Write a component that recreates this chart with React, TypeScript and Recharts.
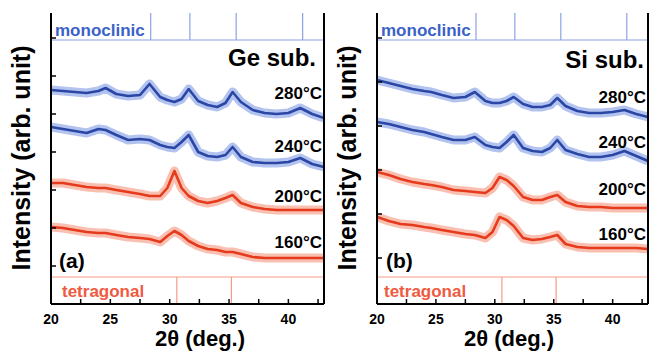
import { LineChart, Line, XAxis, YAxis, ReferenceLine } from 'recharts';

// 2-theta sample points (deg.)
const THETA = [20, 21, 22, 23, 24, 24.6, 25.5, 26.5, 27.5, 28.3, 29.2, 29.8, 30.4, 31, 31.6, 32.4, 33.2, 34, 34.7, 35.3, 36, 37, 38, 39, 40, 41, 42, 43];

// intensities (arb. unit, offset stacked)
const GE_280 = [214, 213, 212, 211, 213, 216, 210, 208, 209, 220, 207, 204, 202, 205, 215, 203, 199, 197, 201, 212, 202, 194, 191, 190, 191, 196, 190, 186];
const GE_240 = [177, 175, 173, 171, 175, 174, 169, 164, 165, 164, 159, 157, 156, 162, 169, 152, 148, 147, 149, 157, 147, 142, 141, 141, 142, 146, 140, 137];
const GE_200 = [121, 121, 119, 117, 116, 116, 114, 112, 110, 108, 108, 116, 133, 116, 108, 103, 101, 103, 106, 109, 101, 97, 95, 94, 94, 94, 94, 94];
const GE_160 = [77, 76, 74, 72, 71, 71, 69, 67, 66, 65, 62, 68, 73, 69, 63, 58, 55, 54, 52, 52, 50, 47, 46, 46, 46, 46, 46, 46];

const SI_280 = [224, 221, 218, 215, 213, 212, 209, 206, 207, 212, 203, 201, 201, 203, 207, 200, 197, 197, 199, 206, 198, 193, 191, 191, 192, 194, 190, 187];
const SI_240 = [182, 180, 177, 174, 172, 170, 167, 164, 164, 167, 159, 157, 156, 162, 169, 156, 153, 152, 156, 164, 154, 150, 147, 147, 149, 153, 148, 143];
const SI_200 = [132, 129, 125, 122, 120, 119, 117, 114, 113, 112, 111, 116, 127, 124, 118, 107, 104, 104, 107, 109, 102, 98, 97, 97, 96, 96, 96, 96];
const SI_160 = [87, 83, 80, 79, 77, 76, 74, 72, 70, 69, 66, 72, 87, 84, 78, 66, 64, 65, 67, 69, 60, 57, 56, 56, 56, 56, 56, 55];

const SERIES_KEYS = ['s280', 's240', 's200', 's160'];
const TEMPS = ['280°C', '240°C', '200°C', '160°C'];

const X_TICKS = [20, 22.5, 25, 27.5, 30, 32.5, 35, 37.5, 40, 42.5];
const X_LABELS = [20, 25, 30, 35, 40];
const GE_Y_TICKS = [38, 76, 114, 152, 190, 228, 266];
const SI_Y_TICKS = [46, 90, 134, 178, 222, 266];

// reference pattern positions
const MONO_PEAKS = [28.4, 31.7, 35.6, 41.2];
const TETRA_PEAKS = [30.6, 35.2];
const MONO_LEVEL = 264;
const TETRA_LEVEL = 27;
const Y_MAX = 291;

const BLUE = '#2a47a6';
const BLUE_LIGHT = '#8aa3e6';
const RED = '#e63a1c';
const RED_LIGHT = '#f69c86';
const FONT = '"Liberation Sans", Arial, sans-serif';

const makeRows = (s280: number[], s240: number[], s200: number[], s160: number[]) =>
  THETA.map((t, i) => ({ t, s280: s280[i], s240: s240[i], s200: s200[i], s160: s160[i] }));

const GE_ROWS = makeRows(GE_280, GE_240, GE_200, GE_160);
const SI_ROWS = makeRows(SI_280, SI_240, SI_200, SI_160);

const BottomTick = (props: any) => {
  const { x, y, payload } = props;
  const v = payload.value;
  return (
    <g>
      <line x1={x} x2={x} y1={y} y2={y - 5} stroke="#000" strokeWidth={1.5} />
      {X_LABELS.includes(v) && (
        <text x={x} y={y + 20} textAnchor="middle" fontSize={14} fontWeight="bold" fontFamily={FONT} fill="#000">
          {v}
        </text>
      )}
    </g>
  );
};

const TopTick = (props: any) => {
  const { x, y } = props;
  return <line x1={x} x2={x} y1={y} y2={y + 5} stroke="#000" strokeWidth={1.5} />;
};

const LeftTick = (props: any) => {
  const { x, y } = props;
  return <line x1={x} x2={x + 5} y1={y} y2={y} stroke="#000" strokeWidth={1.5} />;
};

const RightTick = (props: any) => {
  const { x, y } = props;
  return <line x1={x} x2={x - 5} y1={y} y2={y} stroke="#000" strokeWidth={1.5} />;
};

interface PanelProps {
  rows: any[];
  yTicks: number[];
  width: number;
  rightGap: number;
}

const Panel = ({ rows, yTicks, width, rightGap }: PanelProps) => (
  <LineChart width={width} height={354} data={rows} margin={{ top: 13, right: 0, bottom: 0, left: 0 }}>
    <XAxis xAxisId="b" dataKey="t" type="number" domain={[20, 43]} ticks={X_TICKS} interval={0}
      allowDataOverflow height={50} tickSize={0} tickMargin={0} tick={<BottomTick />}
      axisLine={{ stroke: '#000', strokeWidth: 2 }} />
    <XAxis xAxisId="t" orientation="top" dataKey="t" type="number" domain={[20, 43]} ticks={X_TICKS} interval={0}
      allowDataOverflow height={0} tickSize={0} tickMargin={0} tick={<TopTick />}
      axisLine={{ stroke: '#000', strokeWidth: 2 }} />
    <YAxis yAxisId="l" type="number" domain={[0, Y_MAX]} ticks={yTicks} interval={0} width={51}
      tickSize={0} tickMargin={0} tick={<LeftTick />} axisLine={{ stroke: '#000', strokeWidth: 2 }} />
    <YAxis yAxisId="r" orientation="right" type="number" domain={[0, Y_MAX]} ticks={yTicks} interval={0}
      width={rightGap} tickSize={0} tickMargin={0} tick={<RightTick />} axisLine={{ stroke: '#000', strokeWidth: 2 }} />

    <ReferenceLine xAxisId="b" yAxisId="l" y={MONO_LEVEL} stroke={BLUE_LIGHT} strokeWidth={1.2} />
    {MONO_PEAKS.map((p) => (
      <ReferenceLine key={`m${p}`} xAxisId="b" yAxisId="l" stroke={BLUE_LIGHT} strokeWidth={1.2}
        segment={[{ x: p, y: MONO_LEVEL }, { x: p, y: Y_MAX }]} />
    ))}
    <ReferenceLine xAxisId="b" yAxisId="l" y={TETRA_LEVEL} stroke={RED_LIGHT} strokeWidth={1.2} />
    {TETRA_PEAKS.map((p) => (
      <ReferenceLine key={`t${p}`} xAxisId="b" yAxisId="l" stroke={RED_LIGHT} strokeWidth={1.2}
        segment={[{ x: p, y: 0 }, { x: p, y: TETRA_LEVEL }]} />
    ))}

    {/* wide pale band stands in for the noise envelope of the scans */}
    {SERIES_KEYS.map((k, i) => (
      <Line key={`${k}-band`} xAxisId="b" yAxisId="l" dataKey={k} type="linear" dot={false} activeDot={false}
        stroke={i < 2 ? BLUE_LIGHT : RED_LIGHT} strokeWidth={9} strokeOpacity={0.65} strokeLinejoin="round"
        isAnimationActive={false} />
    ))}
    {SERIES_KEYS.map((k, i) => (
      <Line key={k} xAxisId="b" yAxisId="l" dataKey={k} type="linear" dot={false} activeDot={false}
        stroke={i < 2 ? BLUE : RED} strokeWidth={2.6} strokeLinejoin="round" isAnimationActive={false} />
    ))}
  </LineChart>
);

const bold = { fontFamily: FONT, fontWeight: 'bold' as const, fill: '#000' };

const App = () => (
  <div style={{ position: 'fixed', left: 0, top: 0, width: 650, height: 354, background: '#fff', overflow: 'hidden' }}>
    <div style={{ position: 'absolute', left: 0, top: 0 }}>
      <Panel rows={GE_ROWS} yTicks={GE_Y_TICKS} width={326} rightGap={2} />
    </div>
    <div style={{ position: 'absolute', left: 326, top: 0 }}>
      <Panel rows={SI_ROWS} yTicks={SI_Y_TICKS} width={324} rightGap={2} />
    </div>
    <svg width={650} height={354} style={{ position: 'absolute', left: 0, top: 0, pointerEvents: 'none' }}>
      {/* panel (a) */}
      <text x={30} y={158} transform="rotate(-90 30 158)" textAnchor="middle" fontSize={25} {...bold}>Intensity (arb. unit)</text>
      <text x={200} y={346} textAnchor="middle" fontSize={22} {...bold}>2θ (deg.)</text>
      <text x={55} y={36} fontSize={17} {...bold} fill="#3a62c8">monoclinic</text>
      <text x={62} y={297} fontSize={17} {...bold} fill="#f05a40">tetragonal</text>
      <text x={316} y={66} textAnchor="end" fontSize={24} {...bold}>Ge sub.</text>
      <text x={59} y={268} fontSize={21} {...bold}>(a)</text>
      {TEMPS.map((t, i) => (
        <text key={`ga${t}`} x={322} y={[99, 152, 202, 248][i]} textAnchor="end" fontSize={17} {...bold}>{t}</text>
      ))}
      {/* panel (b) */}
      <text x={356} y={158} transform="rotate(-90 356 158)" textAnchor="middle" fontSize={25} {...bold}>Intensity (arb. unit)</text>
      <text x={509} y={346} textAnchor="middle" fontSize={22} {...bold}>2θ (deg.)</text>
      <text x={381} y={36} fontSize={17} {...bold} fill="#3a62c8">monoclinic</text>
      <text x={384} y={297} fontSize={17} {...bold} fill="#f05a40">tetragonal</text>
      <text x={644} y={68} textAnchor="end" fontSize={24} {...bold}>Si sub.</text>
      <text x={386} y={268} fontSize={21} {...bold}>(b)</text>
      {TEMPS.map((t, i) => (
        <text key={`gb${t}`} x={646} y={[103, 148, 195, 240][i]} textAnchor="end" fontSize={17} {...bold}>{t}</text>
      ))}
    </svg>
  </div>
);

export default App;
